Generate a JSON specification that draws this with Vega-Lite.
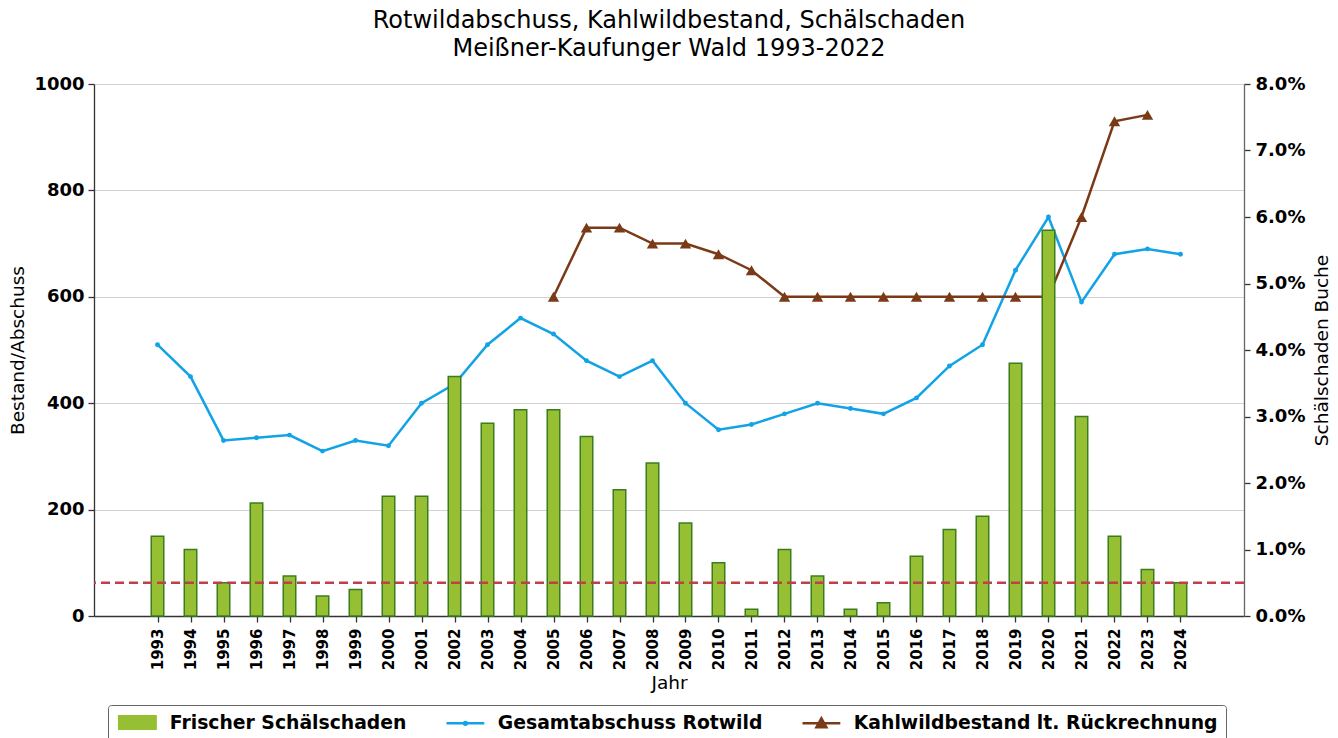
{
  "$schema": "https://vega.github.io/schema/vega-lite/v6.json",
  "width": 1150,
  "height": 532,
  "autosize": {"type": "none"},
  "padding": {"left": 94, "top": 84, "right": 94, "bottom": 122},
  "background": "white",
  "title": {
    "text": ["Rotwildabschuss, Kahlwildbestand, Schälschaden", "Meißner-Kaufunger Wald 1993-2022"],
    "fontSize": 24,
    "fontWeight": "normal",
    "font": "DejaVu Sans",
    "color": "black",
    "anchor": "middle",
    "offset": 14,
    "lineHeight": 28
  },
  "data": {
    "values": [
      {"Jahr": 1993, "Abschuss": 510, "Kahlwild": null, "Schaden": 0.012},
      {"Jahr": 1994, "Abschuss": 450, "Kahlwild": null, "Schaden": 0.010},
      {"Jahr": 1995, "Abschuss": 330, "Kahlwild": null, "Schaden": 0.005},
      {"Jahr": 1996, "Abschuss": 335, "Kahlwild": null, "Schaden": 0.017},
      {"Jahr": 1997, "Abschuss": 340, "Kahlwild": null, "Schaden": 0.006},
      {"Jahr": 1998, "Abschuss": 310, "Kahlwild": null, "Schaden": 0.003},
      {"Jahr": 1999, "Abschuss": 330, "Kahlwild": null, "Schaden": 0.004},
      {"Jahr": 2000, "Abschuss": 320, "Kahlwild": null, "Schaden": 0.018},
      {"Jahr": 2001, "Abschuss": 400, "Kahlwild": null, "Schaden": 0.018},
      {"Jahr": 2002, "Abschuss": 436, "Kahlwild": null, "Schaden": 0.036},
      {"Jahr": 2003, "Abschuss": 510, "Kahlwild": null, "Schaden": 0.029},
      {"Jahr": 2004, "Abschuss": 560, "Kahlwild": null, "Schaden": 0.031},
      {"Jahr": 2005, "Abschuss": 530, "Kahlwild": 600, "Schaden": 0.031},
      {"Jahr": 2006, "Abschuss": 480, "Kahlwild": 730, "Schaden": 0.027},
      {"Jahr": 2007, "Abschuss": 450, "Kahlwild": 730, "Schaden": 0.019},
      {"Jahr": 2008, "Abschuss": 480, "Kahlwild": 700, "Schaden": 0.023},
      {"Jahr": 2009, "Abschuss": 400, "Kahlwild": 700, "Schaden": 0.014},
      {"Jahr": 2010, "Abschuss": 350, "Kahlwild": 680, "Schaden": 0.008},
      {"Jahr": 2011, "Abschuss": 360, "Kahlwild": 650, "Schaden": 0.001},
      {"Jahr": 2012, "Abschuss": 380, "Kahlwild": 600, "Schaden": 0.010},
      {"Jahr": 2013, "Abschuss": 400, "Kahlwild": 600, "Schaden": 0.006},
      {"Jahr": 2014, "Abschuss": 390, "Kahlwild": 600, "Schaden": 0.001},
      {"Jahr": 2015, "Abschuss": 380, "Kahlwild": 600, "Schaden": 0.002},
      {"Jahr": 2016, "Abschuss": 410, "Kahlwild": 600, "Schaden": 0.009},
      {"Jahr": 2017, "Abschuss": 470, "Kahlwild": 600, "Schaden": 0.013},
      {"Jahr": 2018, "Abschuss": 510, "Kahlwild": 600, "Schaden": 0.015},
      {"Jahr": 2019, "Abschuss": 650, "Kahlwild": 600, "Schaden": 0.038},
      {"Jahr": 2020, "Abschuss": 750, "Kahlwild": 600, "Schaden": 0.058},
      {"Jahr": 2021, "Abschuss": 590, "Kahlwild": 750, "Schaden": 0.030},
      {"Jahr": 2022, "Abschuss": 680, "Kahlwild": 930, "Schaden": 0.012},
      {"Jahr": 2023, "Abschuss": 690, "Kahlwild": 942, "Schaden": 0.007},
      {"Jahr": 2024, "Abschuss": 680, "Kahlwild": null, "Schaden": 0.005}
    ]
  },
  "layer": [
    {
      "layer": [
        {
          "mark": {"type": "line", "strokeWidth": 2.5, "point": {"filled": true, "size": 24}},
          "encoding": {
            "x": {"field": "Jahr", "type": "quantitative", "title": "Jahr",
              "scale": {"domain": [1991.227, 2025.773], "nice": false, "zero": false},
              "axis": {"values": [1993,1994,1995,1996,1997,1998,1999,2000,2001,2002,2003,2004,2005,2006,2007,2008,2009,2010,2011,2012,2013,2014,2015,2016,2017,2018,2019,2020,2021,2022,2023,2024],
                "format": "d", "labelAngle": -90, "labelFontSize": 15, "labelPadding": 6, "grid": false, "titlePadding": 4, "labelOverlap": false, "labelFlush": false}},
            "y": {"field": "Abschuss", "type": "quantitative", "title": "Bestand/Abschuss",
              "scale": {"domain": [0, 1000], "nice": false},
              "axis": {"orient": "left", "values": [0, 200, 400, 600, 800, 1000], "format": "d", "grid": true, "labelPadding": 4, "titlePadding": 6}},
            "color": {"datum": "Gesamtabschuss Rotwild", "type": "nominal",
              "scale": {"domain": ["Frischer Schälschaden", "Gesamtabschuss Rotwild", "Kahlwildbestand lt. Rückrechnung"], "range": ["#97bf33", "#12a2e6", "#7b3a17"]},
              "legend": {
                "orient": "none", "legendX": 14, "legendY": 621, "direction": "horizontal", "title": null,
                "labelFontSize": 18.8, "labelFontWeight": "bold", "labelColor": "black", "labelLimit": 600,
                "symbolSize": 196, "symbolStrokeWidth": 2, "symbolOffset": 12, "labelOffset": 23, "columnPadding": 34,
                "padding": 8, "strokeColor": "#666666", "cornerRadius": 3, "fillColor": "white",
                "encode": {"symbols": {"update": {
                  "shape": {"signal": "datum.value === 'Frischer Schälschaden' ? 'M-2.6,-0.9H2.6V0.9H-2.6Z' : datum.value === 'Gesamtabschuss Rotwild' ? 'M-2.7,0H2.7M-0.2,0A0.2,0.2,0,1,0,0.2,0A0.2,0.2,0,1,0,-0.2,0Z' : 'M-2.7,0H2.7M0,-0.71L0.71,0.57L-0.71,0.57Z'"},
                  "fill": {"signal": "datum.value === 'Frischer Schälschaden' ? '#97bf33' : datum.value === 'Gesamtabschuss Rotwild' ? '#12a2e6' : '#7b3a17'"},
                  "stroke": {"signal": "datum.value === 'Frischer Schälschaden' ? '#3a7d1e' : datum.value === 'Gesamtabschuss Rotwild' ? '#12a2e6' : '#7b3a17'"},
                  "strokeWidth": {"value": 2.5},
                  "opacity": {"value": 1},
                  "fillOpacity": {"value": 1},
                  "strokeOpacity": {"value": 1}
                }}}
              }}
          }
        },
        {
          "mark": {"type": "line", "strokeWidth": 2.5, "point": {"filled": true, "shape": "triangle-up", "size": 130}},
          "encoding": {
            "x": {"field": "Jahr", "type": "quantitative", "title": "Jahr",
              "scale": {"domain": [1991.227, 2025.773], "nice": false, "zero": false},
              "axis": {"values": [1993,1994,1995,1996,1997,1998,1999,2000,2001,2002,2003,2004,2005,2006,2007,2008,2009,2010,2011,2012,2013,2014,2015,2016,2017,2018,2019,2020,2021,2022,2023,2024],
                "format": "d", "labelAngle": -90, "labelFontSize": 15, "labelPadding": 6, "grid": false, "titlePadding": 4, "labelOverlap": false, "labelFlush": false}},
            "y": {"field": "Kahlwild", "type": "quantitative", "title": "Bestand/Abschuss",
              "scale": {"domain": [0, 1000], "nice": false},
              "axis": {"orient": "left", "values": [0, 200, 400, 600, 800, 1000], "format": "d", "grid": true, "labelPadding": 4, "titlePadding": 6}},
            "color": {"datum": "Kahlwildbestand lt. Rückrechnung", "type": "nominal"}
          }
        }
      ]
    },
    {
      "layer": [
        {
          "mark": {"type": "bar", "size": 12.5, "stroke": "#3a7d1e", "strokeWidth": 1.5},
          "encoding": {
            "x": {"field": "Jahr", "type": "quantitative", "title": "Jahr",
              "scale": {"domain": [1991.227, 2025.773], "nice": false, "zero": false},
              "axis": {"values": [1993,1994,1995,1996,1997,1998,1999,2000,2001,2002,2003,2004,2005,2006,2007,2008,2009,2010,2011,2012,2013,2014,2015,2016,2017,2018,2019,2020,2021,2022,2023,2024],
                "format": "d", "labelAngle": -90, "labelFontSize": 15, "labelPadding": 6, "grid": false, "titlePadding": 4, "labelOverlap": false, "labelFlush": false}},
            "y": {"field": "Schaden", "type": "quantitative", "title": "Schälschaden Buche",
              "scale": {"domain": [0, 0.08], "nice": false},
              "axis": {"orient": "right", "values": [0, 0.01, 0.02, 0.03, 0.04, 0.05, 0.06, 0.07, 0.08], "format": ".1%", "grid": false, "labelPadding": 5, "titlePadding": 8, "titleAngle": 270, "titleBaseline": "top", "domainColor": "#666666"}},
            "color": {"datum": "Frischer Schälschaden", "type": "nominal"}
          }
        },
        {
          "data": {"values": [{"Schwelle": 0.005}]},
          "mark": {"type": "rule", "color": "#bf3f4a", "strokeDash": [9, 5], "strokeWidth": 2.5},
          "encoding": {
            "y": {"field": "Schwelle", "type": "quantitative", "title": "Schälschaden Buche",
              "axis": {"orient": "right", "values": [0, 0.01, 0.02, 0.03, 0.04, 0.05, 0.06, 0.07, 0.08], "format": ".1%", "grid": false, "labelPadding": 5, "titlePadding": 8, "titleAngle": 270, "titleBaseline": "top", "domainColor": "#666666"}}
          }
        }
      ]
    }
  ],
  "resolve": {"scale": {"y": "independent"}, "axis": {"y": "independent"}},
  "config": {
    "font": "DejaVu Sans",
    "view": {"stroke": null},
    "axisX": {"labelOverlap": false},
    "axis": {
      "labelColor": "black", "titleColor": "black", "tickColor": "#333333", "domainColor": "#333333",
      "labelFontWeight": "bold", "titleFontWeight": "normal", "tickSize": 6, "domainWidth": 1.3, "tickWidth": 1.3,
      "labelFontSize": 18, "titleFontSize": 18.5, "gridColor": "#d3d3d3", "gridWidth": 1.2
    }
  }
}
